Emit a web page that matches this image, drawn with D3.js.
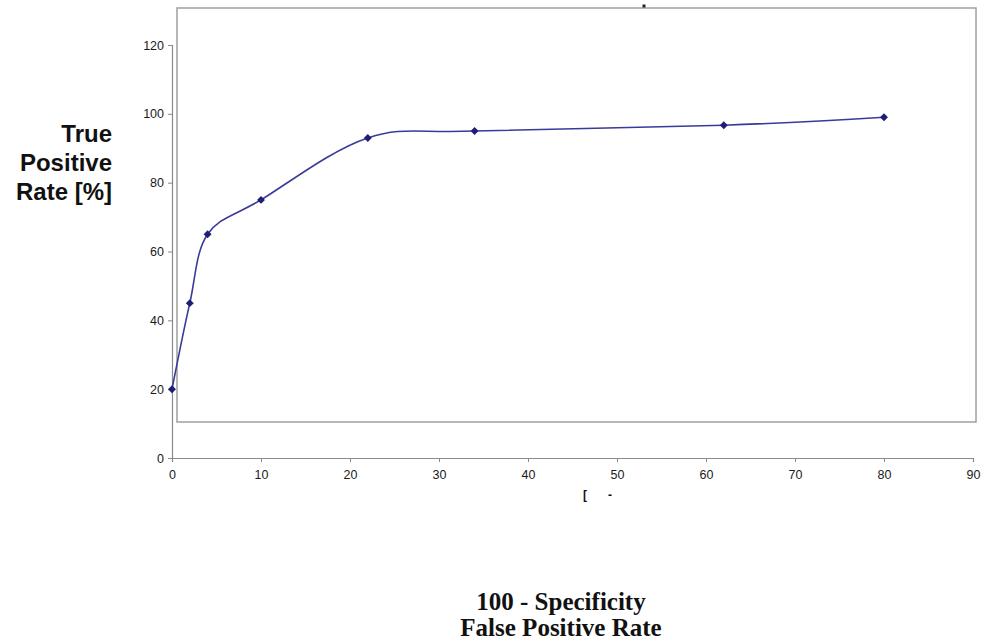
<!DOCTYPE html>
<html><head><meta charset="utf-8">
<script src="https://cdn.jsdelivr.net/npm/d3@7"></script>
<style>body{margin:0;background:#fff}svg{display:block}</style>
</head><body>
<svg id="c" width="982" height="644"></svg>
<script>
const fpr = [0, 2, 4, 10, 22, 34, 62, 80];
const tpr = [20, 45, 65, 75, 93, 95, 96.7, 99];
const xTicks = [0, 10, 20, 30, 40, 50, 60, 70, 80, 90];
const yTicks = [0, 20, 40, 60, 80, 100, 120];
const yTitle = ["True", "Positive", "Rate [%]"];
const xTitle = ["100 - Specificity", "False Positive Rate"];

const svg = d3.select("#c");
const x = d3.scaleLinear().domain([0, 90]).range([172, 973]);
const y = d3.scaleLinear().domain([0, 120]).range([458, 45]);

// plot area frame
svg.append("rect").attr("x", 177).attr("y", 8).attr("width", 799).attr("height", 414)
  .attr("fill", "none").attr("stroke", "#a0a0a0").attr("stroke-width", 1.5);
svg.append("rect").attr("x", 642.5).attr("y", 4.5).attr("width", 3).attr("height", 3).attr("fill", "#222");

const xAxis = svg.append("g").attr("transform", "translate(0,458)")
  .call(d3.axisBottom(x).tickValues(xTicks).tickSize(4).tickPadding(8));
const yAxis = svg.append("g").attr("transform", "translate(172,0)")
  .call(d3.axisLeft(y).tickValues(yTicks).tickSize(4).tickPadding(4));
[xAxis, yAxis].forEach(g => {
  g.select(".domain").attr("stroke", "#8a8a8a").attr("stroke-width", 1.2);
  g.selectAll(".tick line").attr("stroke", "#8a8a8a");
  g.selectAll(".tick text").attr("fill", "#1a1a1a").style("font-family", "Liberation Sans, Arial, sans-serif").style("font-size", "12.5px");
});

const pts = fpr.map((d, i) => [d, tpr[i]]);
svg.append("path").datum(pts)
  .attr("d", d3.line().x(d => x(d[0])).y(d => y(d[1])).curve(d3.curveCardinal.tension(0)))
  .attr("fill", "none").attr("stroke", "#3a3a9a").attr("stroke-width", 1.6);
svg.selectAll(".m").data(pts).enter().append("path")
  .attr("transform", d => `translate(${x(d[0])},${y(d[1])})`)
  .attr("d", d3.symbol(d3.symbolDiamond2, 40))
  .attr("fill", "#1e1e78");

// y title
svg.append("text").attr("text-anchor", "end")
  .style("font-family", "Liberation Sans, Arial, sans-serif").style("font-weight", "bold").style("font-size", "24px").attr("fill", "#111")
  .selectAll("tspan").data(yTitle).enter().append("tspan")
  .attr("x", 112).attr("y", (d, i) => 142 + i * 29).text(d => d);

// stray small marks under x axis
svg.append("text").attr("x", 585).attr("y", 499).attr("text-anchor", "middle")
  .style("font-family", "Liberation Sans, Arial, sans-serif").style("font-weight", "bold").style("font-size", "12px").attr("fill", "#111").text("[");
svg.append("text").attr("x", 610).attr("y", 499).attr("text-anchor", "middle")
  .style("font-family", "Liberation Sans, Arial, sans-serif").style("font-weight", "bold").style("font-size", "12px").attr("fill", "#111").text("-");

// x title
svg.append("text").attr("text-anchor", "middle")
  .style("font-family", "Liberation Serif, Times New Roman, serif").style("font-weight", "bold").style("font-size", "25px").attr("fill", "#111")
  .selectAll("tspan").data(xTitle).enter().append("tspan")
  .attr("x", 561).attr("y", (d, i) => 610 + i * 26).text(d => d);
</script>
</body></html>
